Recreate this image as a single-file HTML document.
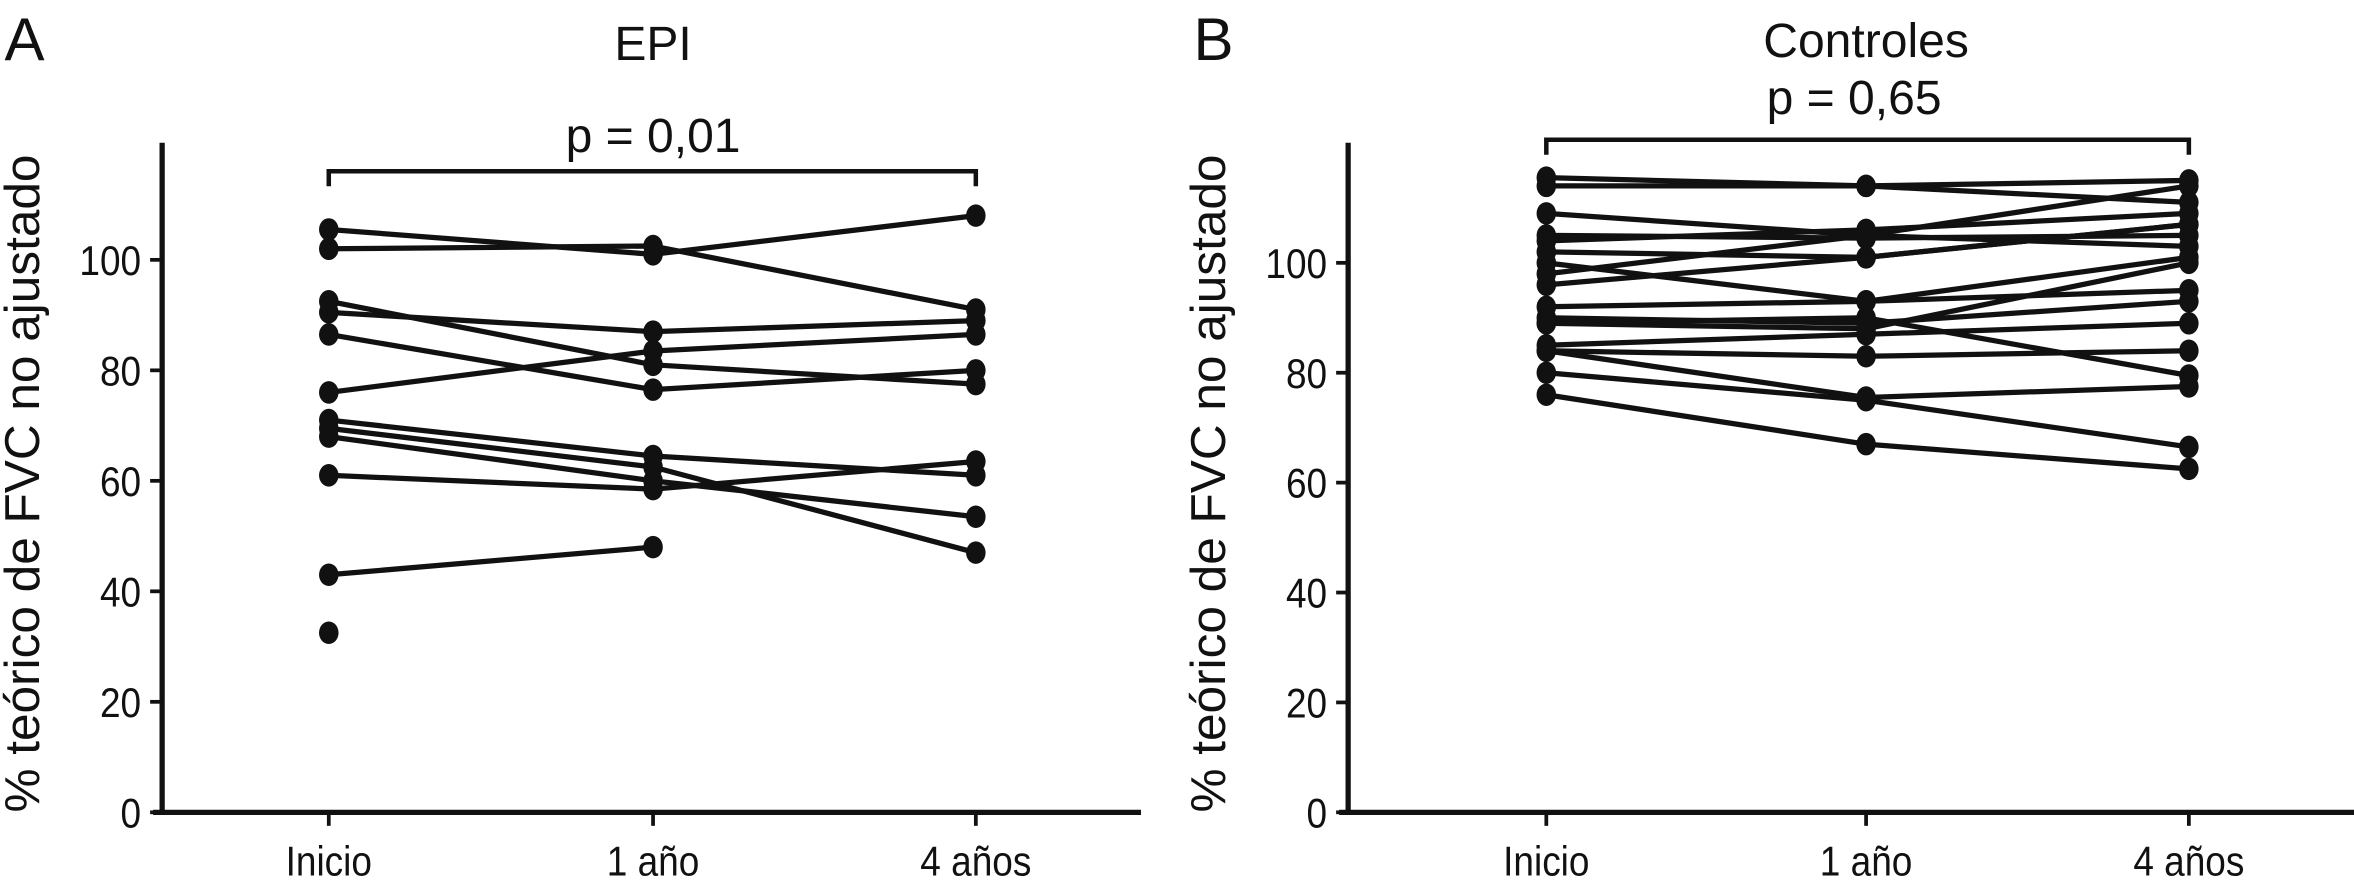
<!DOCTYPE html>
<html><head><meta charset="utf-8"><style>
html,body{margin:0;padding:0;background:#fff;}
svg{display:block;}
text{font-family:"Liberation Sans",sans-serif;fill:#111;}
</style></head><body>
<svg id="fig" width="2354" height="883" viewBox="0 0 1568 588" xmlns="http://www.w3.org/2000/svg">
<text x="3" y="40" font-size="40">A</text>
<text x="435" y="40" font-size="32" text-anchor="middle">EPI</text>
<text x="435" y="101" font-size="32" text-anchor="middle">p = 0,01</text>
<text x="795" y="40" font-size="40">B</text>
<text x="1243" y="38" font-size="32" text-anchor="middle">Controles</text>
<text x="1235" y="76" font-size="32" text-anchor="middle">p = 0,65</text>
<g id="pa"></g><g id="pb"></g>
</svg>
<script>
const categories = ["Inicio", "1 año", "4 años"];
const yTicks = [0, 20, 40, 60, 80, 100];
const epiSeries = [
 [105.5, 101, 108],
 [102, 102.5, 91],
 [90.5, 87, 89],
 [92.5, 81, 77.5],
 [86.5, 76.5, 80],
 [76, 83.5, 86.5],
 [71, 64.5, 61],
 [69.5, 62.5, 47],
 [68, 60, 53.5],
 [61, 58.5, 63.5],
 [43, 48, null],
 [32.5, null, null]
];
const ctrlSeries = [
 [115.5, 114, 115],
 [114, 114, 111],
 [109, 105, 103],
 [105, 104.5, 105],
 [104, 106, 109],
 [102, 101, 107],
 [100, 93, 101],
 [98, 105, 114],
 [96, 101, 107],
 [92, 93, 95],
 [90, 89, 93],
 [89, 88, 100],
 [89, 90, 79.5],
 [85, 87, 89],
 [84, 83, 84],
 [84, 75.5, 77.5],
 [80, 75, 66.5],
 [76, 67, 62.5]
];
const NS = "http://www.w3.org/2000/svg";
function mk(tag, attrs, parent){const e=document.createElementNS(NS,tag);for(const k in attrs)e.setAttribute(k,attrs[k]);parent.appendChild(e);return e;}
function panel(g, p, series, key){
  const x = i => p.xs[i];
  const y = v => p.y0 - v*(p.y0-p.y100)/100;
  const ax = mk("line",{x1:p.ax,y1:95,x2:p.ax,y2:p.y0,stroke:"#111","stroke-width":3.5},g);
   
  const bx = mk("line",{x1:p.ax-6,y1:p.y0,x2:p.xend,y2:p.y0,stroke:"#111","stroke-width":3.5},g);
   
  yTicks.forEach(t=>{
    const tl=mk("line",{x1:p.ax-8,y1:y(t),x2:p.ax,y2:y(t),stroke:"#111","stroke-width":2.5},g);
     
    const tx=mk("text",{x:p.ax-14,y:y(t)+10,"font-size":28,"text-anchor":"end",transform:`translate(${p.ax-14},0) scale(0.88,1) translate(${-(p.ax-14)},0)`},g);
    tx.textContent=t;
     
  });
  categories.forEach((c,i)=>{
    const tl=mk("line",{x1:x(i),y1:p.y0,x2:x(i),y2:p.y0+9,stroke:"#111","stroke-width":2.5},g);
     
    const tx=mk("text",{x:x(i),y:583,"font-size":28,"text-anchor":"middle",transform:`translate(${x(i)},0) scale(0.88,1) translate(${-x(i)},0)`},g);
    tx.textContent=c;
     
  });
  const yl=mk("text",{x:0,y:0,"font-size":33,"text-anchor":"middle",transform:`translate(${p.ylx},322) rotate(-90)`},g);
  yl.textContent="% teórico de FVC no ajustado";
   
  const br=mk("path",{d:`M${x(0)},${p.by+10}V${p.by}H${x(2)}V${p.by+10}`,fill:"none",stroke:"#111","stroke-width":3},g);
   
  series.forEach((s,si)=>{
    for(let i=0;i<s.length-1;i++){
      if(s[i]==null||s[i+1]==null)continue;
      const l=mk("line",{x1:x(i),y1:y(s[i]),x2:x(i+1),y2:y(s[i+1]),stroke:"#111","stroke-width":3.5},g);
      
      
    }
    s.forEach((v,i)=>{
      if(v==null)return;
      const c=mk("ellipse",{cx:x(i),cy:y(v),rx:6.5,ry:7.5,fill:"#111"},g);
      
      
    });
  });
}
panel(document.getElementById("pa"),{ax:108,xend:760,y0:541,y100:173,xs:[219,435,650],ylx:26,by:114},epiSeries,"epi");
panel(document.getElementById("pb"),{ax:898,xend:1568,y0:541,y100:175,xs:[1030,1243,1458],ylx:816,by:93},ctrlSeries,"controles");
</script>
</body></html>
